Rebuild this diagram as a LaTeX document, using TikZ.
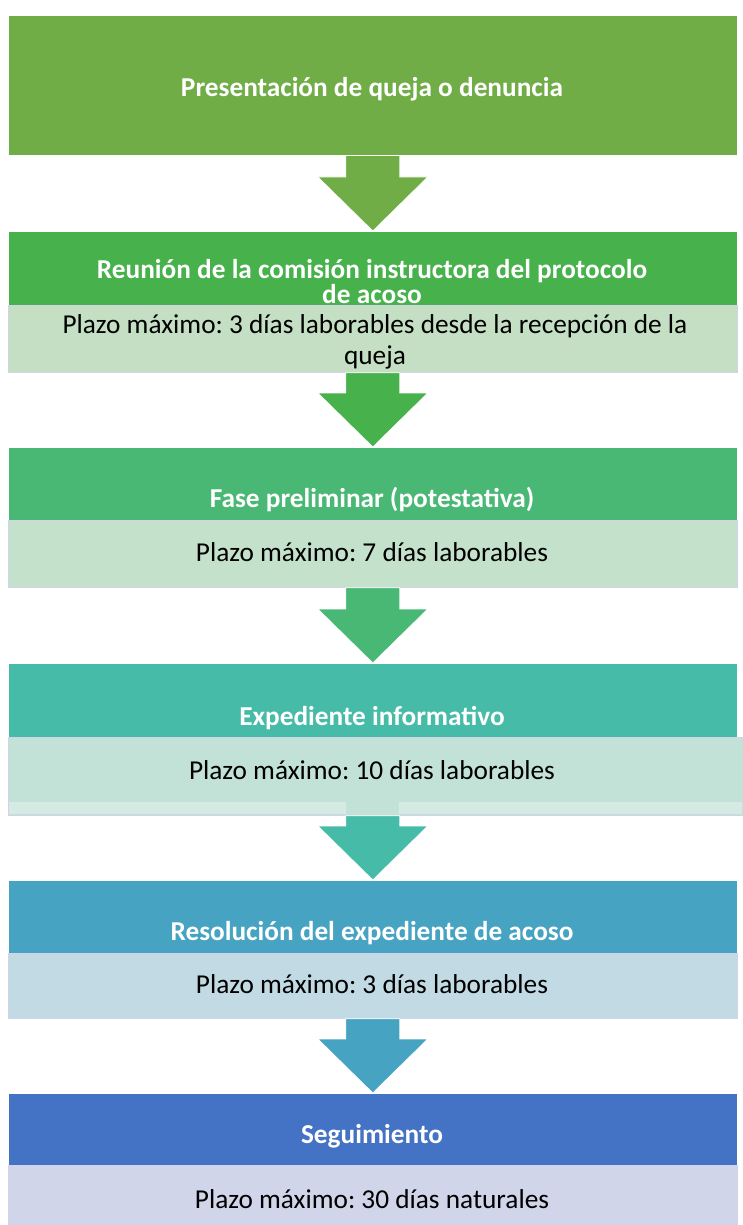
\documentclass[tikz,border=0pt]{standalone}
\usepackage{fontspec}
\setmainfont{Carlito}
\frenchspacing
\usetikzlibrary{calc}

\definecolor{cOne}{HTML}{70AD47}
\definecolor{cTwo}{HTML}{47B14B}
\definecolor{cThree}{HTML}{48B874}
\definecolor{cFour}{HTML}{46BCA8}
\definecolor{cFive}{HTML}{46A3C2}
\definecolor{cSix}{HTML}{4472C4}
\definecolor{pTwo}{HTML}{C5DFC4}
\definecolor{pThree}{HTML}{C4E2CB}
\definecolor{pFour}{HTML}{C2E2D8}
\definecolor{pFourStrip}{HTML}{D4EAE3}
\definecolor{pFive}{HTML}{C1DAE3}
\definecolor{pSix}{HTML}{D0D5E9}
\definecolor{edge}{HTML}{D2D2EA}

\tikzstyle{stagebox}=[rectangle,anchor=north west,minimum width=729pt,inner sep=0pt,draw=white,line width=0.6pt]
\tikzstyle{plazobox}=[rectangle,anchor=north west,minimum width=729pt,inner sep=0pt,draw=edge,line width=0.8pt]
\tikzstyle{steptitle}=[text=white,font=\fontsize{27.3}{25}\selectfont\bfseries,align=center]
\tikzstyle{plazotext}=[text=black,font=\fontsize{27.3}{31}\selectfont,align=center]
\tikzstyle{oneline}=[text height=0.7em,text depth=0.2em]

\newcommand{\blockarrow}[3]{%
  \filldraw[fill=#3,draw=white,line width=0.8pt]
    ($(#2.north |- #1.south)+(-27,0)$) -- ($(#2.north |- #1.south)+(27,0)$)
    -- ($(#2.north)+(27,-54)$) -- ($(#2.north)+(55,-54)$) -- (#2.north)
    -- ($(#2.north)+(-55,-54)$) -- ($(#2.north)+(-27,-54)$) -- cycle;}

\begin{document}
\begin{tikzpicture}[x=1pt,y=-1pt]
  \fill[white] (0,0) rectangle (743,1225);
  \useasboundingbox (0,0) rectangle (743,1225);

  \node[stagebox,fill=cOne,minimum height=140pt] (d1) at (8,15) {};
  \node[stagebox,fill=cTwo,minimum height=74pt] (d2) at (8,231) {};
  \node[plazobox,fill=pTwo,minimum height=67pt] (l2) at (8,305) {};
  \node[stagebox,fill=cThree,minimum height=73pt] (d3) at (8,447) {};
  \node[plazobox,fill=pThree,minimum height=67pt] (l3) at (8,520) {};
  \node[stagebox,fill=cFour,minimum height=74pt] (d4) at (8,663) {};
  \node[plazobox,fill=pFour,minimum width=735pt,minimum height=78pt] (l4) at (8,737) {};
  \fill[pFourStrip] (9,802) rectangle (346,814);
  \fill[pFourStrip] (399,802) rectangle (742,814);
  \node[stagebox,fill=cFive,minimum height=73pt] (d5) at (8,880) {};
  \node[plazobox,fill=pFive,minimum height=65pt] (l5) at (8,953) {};
  \node[stagebox,fill=cSix,minimum height=72pt] (d6) at (8,1093) {};
  \node[plazobox,fill=pSix,minimum height=70pt] (l6) at (8,1165) {};

  \foreach \a/\b/\c in {d1/d2/cOne, l2/d3/cTwo, l3/d4/cThree, l4/d5/cFour, l5/d6/cFive} {
    \blockarrow{\a}{\b}{\c}
  }

  \node[steptitle,oneline] (t1) at (372,94) {Presentación de queja o denuncia};
  \node[steptitle] (t2) at (372,282) {Reunión de la comisión instructora del protocolo\\de acoso};
  \node[plazotext] (p2) at (375,342) {Plazo máximo: 3 días laborables desde la recepción de la\\queja};
  \node[steptitle,oneline] (t3) at (372,505) {Fase preliminar (potestativa)};
  \node[plazotext,oneline] (p3) at (372,559) {Plazo máximo: 7 días laborables};
  \node[steptitle,oneline] (t4) at (372,723) {Expediente informativo};
  \node[plazotext,oneline] (p4) at (372,777) {Plazo máximo: 10 días laborables};
  \node[steptitle,oneline] (t5) at (372,938) {Resolución del expediente de acoso};
  \node[plazotext,oneline] (p5) at (372,991) {Plazo máximo: 3 días laborables};
  \node[steptitle,oneline] (t6) at (372,1141) {Seguimiento};
  \node[plazotext,oneline] (p6) at (372,1206) {Plazo máximo: 30 días naturales};
\end{tikzpicture}
\end{document}
